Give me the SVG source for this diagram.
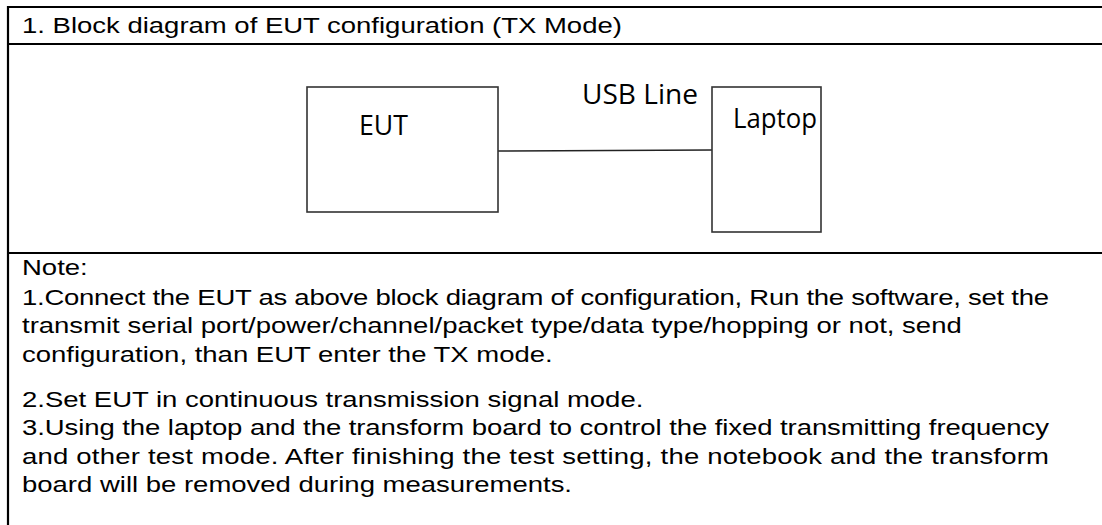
<svg xmlns="http://www.w3.org/2000/svg" width="1102" height="525" viewBox="0 0 1102 525">
<style>
.rule{stroke:#000;stroke-width:2.2;fill:none}
.box{fill:#fff;stroke:#333;stroke-width:1.6}
.lbl{font-family:"Open Sans","Noto Sans",sans-serif;font-size:27px;fill:#000}
.t{font-family:"Liberation Sans",Arial,sans-serif;font-size:22px;fill:#000}
</style>
<rect width="1102" height="525" fill="#fff"/>
<g id="table">
<line class="rule" x1="7" y1="7" x2="1102" y2="7"/>
<line class="rule" x1="7" y1="44" x2="1102" y2="44"/>
<line class="rule" x1="7" y1="253" x2="1102" y2="253"/>
<line class="rule" x1="8" y1="6" x2="8" y2="525"/>
<text class="t" transform="translate(22,33) scale(1.25,1)">1. Block diagram of EUT configuration (TX Mode)</text>
</g>
<g id="connectors">
<line x1="498" y1="151" x2="712" y2="150" stroke="#222" stroke-width="1.6"/>
<text class="lbl" x="582" y="104" textLength="116" lengthAdjust="spacingAndGlyphs">USB Line</text>
</g>
<g id="eut">
<rect class="box" x="307" y="87" width="191" height="125"/>
<text class="lbl" x="359" y="135" textLength="49" lengthAdjust="spacingAndGlyphs">EUT</text>
</g>
<g id="laptop">
<rect class="box" x="712" y="87" width="109" height="145"/>
<text class="lbl" x="733" y="128" textLength="84" lengthAdjust="spacingAndGlyphs">Laptop</text>
</g>
<g id="notes">
<text class="t" transform="translate(22,275) scale(1.25,1)">Note:</text>
<text class="t" transform="translate(22,305) scale(1.25,1)" textLength="821.6" lengthAdjust="spacing">1.Connect the EUT as above block diagram of configuration, Run the software, set the</text>
<text class="t" transform="translate(22,333) scale(1.25,1)">transmit serial port/power/channel/packet type/data type/hopping or not, send</text>
<text class="t" transform="translate(22,362) scale(1.25,1)">configuration, than EUT enter the TX mode.</text>
<text class="t" transform="translate(22,407) scale(1.25,1)">2.Set EUT in continuous transmission signal mode.</text>
<text class="t" transform="translate(22,435) scale(1.25,1)" textLength="821.6" lengthAdjust="spacing">3.Using the laptop and the transform board to control the fixed transmitting frequency</text>
<text class="t" transform="translate(22,464) scale(1.25,1)" textLength="821.6" lengthAdjust="spacing">and other test mode. After finishing the test setting, the notebook and the transform</text>
<text class="t" transform="translate(22,492) scale(1.25,1)">board will be removed during measurements.</text>
</g>
</svg>
